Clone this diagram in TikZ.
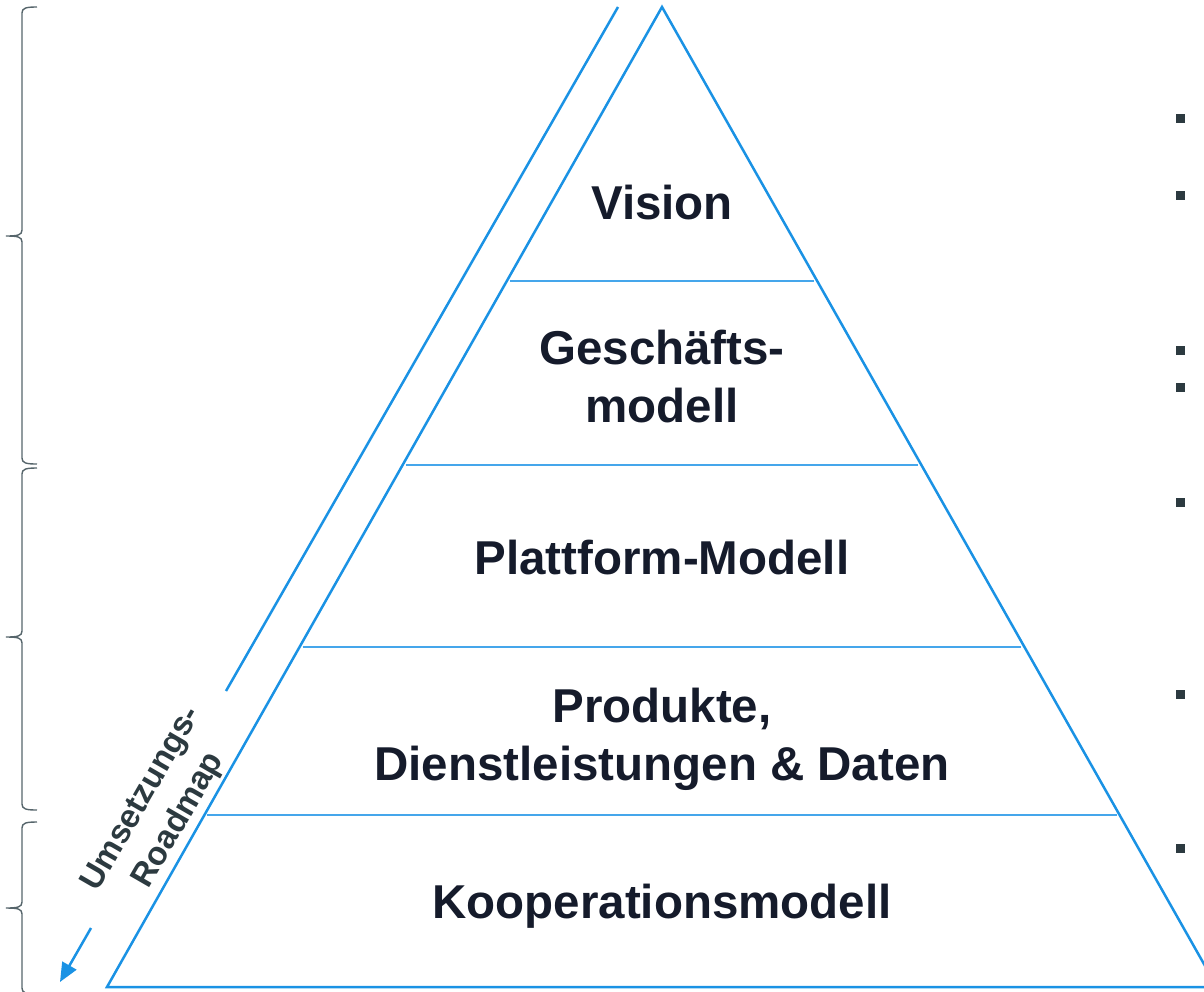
\documentclass[tikz,border=0pt]{standalone}
\usepackage{fontspec}
\setmainfont{Liberation Sans}
\usepackage{xcolor}
\definecolor{pyrblue}{HTML}{1A92E4}
\definecolor{lineblue}{HTML}{45A6EB}
\definecolor{labelnavy}{HTML}{151B2B}
\definecolor{slate}{HTML}{2C3A40}
\definecolor{bracegray}{HTML}{56656B}
\usetikzlibrary{
  calc,
  arrows.meta}

\begin{document}
\begin{tikzpicture}[x=1pt, y=-1pt]
\tikzset{
  pyramid edge/.style={draw=pyrblue, line width=2.5pt},
  layer line/.style={draw=lineblue, line width=1.5pt, shorten <=3pt, shorten >=3pt},
  layer label/.style={text=labelnavy, font=\fontsize{47.5}{58}\selectfont\bfseries,
    align=center, anchor=base, inner sep=0pt},
  roadmap label/.style={text=slate, font=\fontsize{33}{43}\selectfont\bfseries,
    align=center, rotate=60, inner sep=0pt},
  brace line/.style={draw=bracegray, line width=1.4pt},
}
\useasboundingbox (0,0) rectangle (1204,991);
\clip (0,0) rectangle (1204,991);

% the pyramid and its layers
\coordinate (apex) at (662,7);
\coordinate (bl) at (107,987);
\coordinate (br) at (1217,987);
\draw[pyramid edge] (apex) -- (br) -- (bl) -- cycle;

\foreach \t in {0.2796,0.4673,0.6531,0.8245}
  \draw[layer line] ($(apex)!\t!(bl)$) -- ($(apex)!\t!(br)$);

% base anchor sits on the last line
\node[layer label] (vision) at (662,219) {Vision};
\node[layer label] (business) at (662,422) {Geschäfts-\\modell};
\node[layer label] (platform) at (662,574) {Plattform-Modell};
\node[layer label] (products) at (662,780) {Produkte,\\Dienstleistungen \& Daten};
\node[layer label] (coop) at (662,918) {Kooperationsmodell};

% roadmap along the left side
\coordinate (rmtop) at (618,7);
\coordinate (rmbot) at (226,691);
\draw[pyramid edge] (rmtop) -- (rmbot);
\node[roadmap label] (roadmap) at (161,810) {Umsetzungs-\\Roadmap};
\coordinate (arrowstart) at (91,928);
\coordinate (arrowend) at (60,982);
\draw[pyramid edge, -{Triangle[length=19pt,width=16pt]}] (arrowstart) -- (arrowend);

% braces on the left
\foreach \btop/\btip/\bbot in {7/236/464, 468/637/810, 822/908/994} {
  \draw[brace line] (37,\btop) .. controls (26,\btop) and (22,\btop+1) .. (22,\btop+6)
    -- (22,\btip-6) .. controls (22,\btip-1) and (18,\btip) .. (6,\btip)
    .. controls (18,\btip) and (22,\btip+1) .. (22,\btip+6)
    -- (22,\bbot-6) .. controls (22,\bbot-1) and (26,\bbot) .. (37,\bbot);
}

% bullets on the right
\foreach \by in {118,195,350,387,502,694,848}
  \fill[slate] (1176,\by-4.5) rectangle (1185,\by+4.5);

\end{tikzpicture}
\end{document}
